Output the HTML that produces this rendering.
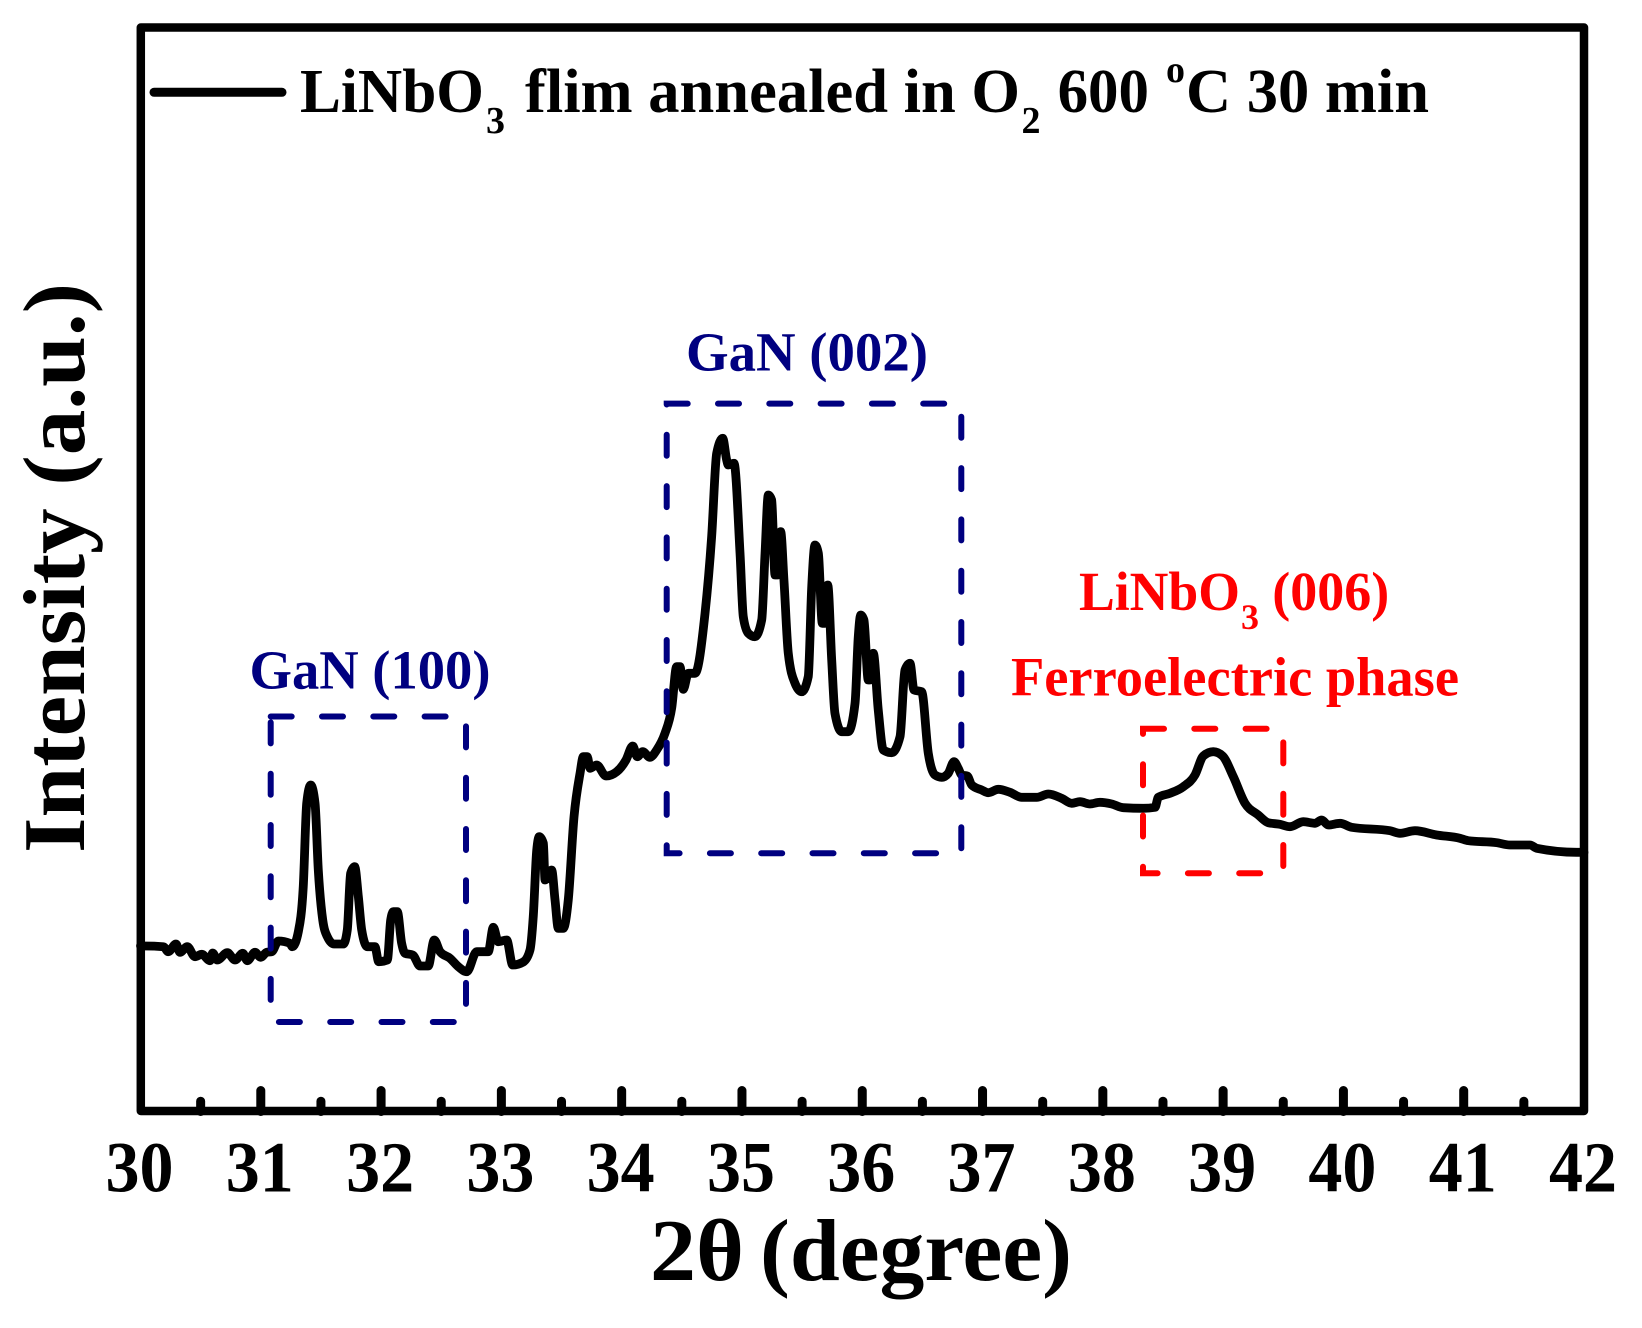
<!DOCTYPE html>
<html lang="en">
<head>
<meta charset="utf-8">
<title>XRD pattern of LiNbO3 film</title>
<style>
html,body{margin:0;padding:0;background:#fff;}
svg{display:block;}
text{font-family:"Liberation Serif","Times New Roman",serif;font-weight:bold;}
</style>
</head>
<body>
<svg id="chart" xmlns="http://www.w3.org/2000/svg" width="1642" height="1328" viewBox="0 0 1642 1328">
  <rect x="0" y="0" width="1642" height="1328" fill="#ffffff"/>
  <g id="ticks"></g>
  <g id="series"></g>
  <rect x="140.8" y="27.5" width="1443.2" height="1083.5" fill="none" stroke="#000" stroke-width="8.5" stroke-linejoin="round"/>
  <rect x="270.7" y="716.5" width="195.3" height="305.5" fill="none" stroke="#000080" stroke-width="6" stroke-linecap="round" stroke-dasharray="21 30.3"/>
  <rect x="666.7" y="403.6" width="294.6" height="449.7" fill="none" stroke="#000080" stroke-width="6" stroke-linecap="round" stroke-dasharray="21 30.3"/>
  <rect x="1143" y="728.8" width="140.3" height="144.4" fill="none" stroke="#ff0000" stroke-width="6" stroke-linecap="round" stroke-dasharray="21 30.3"/>

  <g>
    <line x1="154" y1="92.3" x2="282" y2="92.3" stroke="#000" stroke-width="9" stroke-linecap="round"/>
    <text x="300" y="112" font-size="62" textLength="184" lengthAdjust="spacingAndGlyphs">LiNbO</text>
    <text x="486" y="133" font-size="38">3</text>
    <text x="525" y="112" font-size="62" textLength="495" lengthAdjust="spacingAndGlyphs">flim annealed in O</text>
    <text x="1021.5" y="133" font-size="38">2</text>
    <text x="1057.6" y="112" font-size="62" textLength="91.4" lengthAdjust="spacingAndGlyphs">600</text>
    <text x="1166" y="82" font-size="38">o</text>
    <text x="1186" y="112" font-size="62" textLength="243" lengthAdjust="spacingAndGlyphs">C 30 min</text>
  </g>

  <text x="686" y="370.6" font-size="55" fill="#000080" textLength="242" lengthAdjust="spacingAndGlyphs">GaN (002)</text>
  <text x="249.5" y="688.6" font-size="55" fill="#000080" textLength="241" lengthAdjust="spacingAndGlyphs">GaN (100)</text>
  <text x="1079" y="610" font-size="55" fill="#ff0000" textLength="161" lengthAdjust="spacingAndGlyphs">LiNbO</text>
  <text x="1241" y="629" font-size="36" fill="#ff0000">3</text>
  <text x="1272.3" y="610" font-size="55" fill="#ff0000" textLength="117" lengthAdjust="spacingAndGlyphs">(006)</text>
  <text x="1011" y="695.5" font-size="55" fill="#ff0000" textLength="448" lengthAdjust="spacingAndGlyphs">Ferroelectric phase</text>

  <text x="650" y="1280" font-size="88" textLength="94" lengthAdjust="spacingAndGlyphs">2θ</text>
  <text x="760" y="1280" font-size="88" textLength="312" lengthAdjust="spacingAndGlyphs">(degree)</text>
  <text transform="translate(83.8 853) rotate(-90)" x="0" y="0" font-size="88" textLength="570" lengthAdjust="spacingAndGlyphs">Intensity (a.u.)</text>
</svg>
<script>
const majorTickLabels = [30,31,32,33,34,35,36,37,38,39,40,41,42];
const minorTickValues = [30.5,31.5,32.5,33.5,34.5,35.5,36.5,37.5,38.5,39.5,40.5,41.5];
const twoTheta = [30.037,30.19,30.231,30.295,30.328,30.389,30.453,30.509,30.578,30.6,30.638,30.722,30.786,30.85,30.888,30.952,30.999,31.049,31.091,31.146,31.243,31.262,31.312,31.353,31.382,31.415,31.451,31.478,31.515,31.553,31.609,31.686,31.719,31.747,31.781,31.811,31.839,31.885,31.949,31.98,32.052,32.08,32.102,32.135,32.171,32.199,32.263,32.324,32.392,32.442,32.49,32.573,32.642,32.712,32.795,32.891,32.933,32.974,33.044,33.094,33.182,33.238,33.265,33.294,33.315,33.349,33.363,33.418,33.446,33.473,33.515,33.556,33.604,33.654,33.681,33.714,33.737,33.792,33.87,33.959,34.036,34.092,34.13,34.175,34.235,34.291,34.36,34.416,34.457,34.485,34.512,34.554,34.61,34.693,34.748,34.79,34.84,34.873,34.886,34.934,34.984,35.011,35.053,35.108,35.164,35.192,35.219,35.247,35.275,35.294,35.322,35.349,35.385,35.441,35.497,35.551,35.58,35.607,35.635,35.668,35.69,35.713,35.746,35.773,35.829,35.884,35.94,35.967,35.987,36.014,36.05,36.064,36.092,36.133,36.175,36.245,36.314,36.355,36.397,36.43,36.494,36.549,36.605,36.661,36.715,36.763,36.798,36.827,36.873,36.91,36.993,37.048,37.131,37.228,37.325,37.45,37.547,37.658,37.741,37.81,37.893,37.976,38.074,38.17,38.336,38.434,38.461,38.558,38.669,38.766,38.835,38.918,38.996,39.085,39.182,39.292,39.375,39.473,39.556,39.666,39.764,39.819,39.874,39.972,40.069,40.387,40.47,40.595,40.775,40.969,41.038,41.274,41.385,41.551,41.607,41.939];
const intensity = [165.5,164.8,159.8,167.5,159.2,164.8,154.8,157.2,150.8,158.5,151.5,158.8,151.5,158.2,150.8,159.2,154.2,159.2,159.8,170.5,168.2,164.8,179.8,224.8,308.5,326.5,308.2,241.5,191.5,174.8,167.5,167.5,181.5,238.2,244.8,214.8,181.5,164.8,164.8,149.8,151.5,191.5,199.8,199.8,168.2,158.2,156.5,145.5,145.5,171.5,159.8,153.2,144.8,139.8,159.8,159.8,184.2,169.8,171.5,146.5,149.5,161.5,194.8,261.5,274.8,268.2,231.5,241.5,211.5,183.2,183.2,211.5,294.8,338.2,354.8,354.8,343.2,346.5,335.5,339.8,351.5,365.5,354.8,359.8,354.2,361.5,378.2,403.5,444.8,444.8,422.2,438.2,438.2,498.2,574.8,658.2,673.2,651.5,646.5,648.2,558.2,494.8,478.2,474.8,491.5,558.2,616.5,611.5,536.5,536.5,579.8,531.5,458.2,428.2,419.8,434.8,524.8,566.5,558.2,488.2,488.2,526.5,451.5,398.2,379.8,379.8,408.2,474.8,496.5,491.5,431.5,431.5,458.2,401.5,361.5,358.8,374.8,441.5,448.2,421.5,419.8,358.2,336.5,334.2,338.2,349.8,343.2,336.5,335.5,326.5,321.5,318.8,322.2,319.2,314.2,314.2,317.5,313.2,308.2,309.8,307.5,309.2,307.5,303.8,303.2,304.2,314.2,318.2,324.8,336.5,355.5,359.8,355.5,334.8,308.2,296.5,288.8,287.2,284.8,289.8,288.2,291.5,286.5,288.2,284.2,280.8,278.2,280.8,276.5,273.2,270.8,268.8,266.5,266.5,263.2,259.2];

const SVG_NS = 'http://www.w3.org/2000/svg';
const plot = {left: 140.5, right: 1584, top: 27.5, bottom: 1111.5};
const xDomain = [30, 42];
const yDomain = [0, 1084];

function xScale(v) {
  return plot.left + (v - xDomain[0]) / (xDomain[1] - xDomain[0]) * (plot.right - plot.left);
}
function yScale(v) {
  return plot.bottom - (v - yDomain[0]) / (yDomain[1] - yDomain[0]) * (plot.bottom - plot.top);
}

function monotonePath(xs, ys) {
  const n = xs.length;
  const h = [];
  const s = [];
  for (let i = 0; i < n - 1; i++) {
    h.push(xs[i + 1] - xs[i]);
    s.push((ys[i + 1] - ys[i]) / h[i]);
  }
  const m = new Array(n).fill(0);
  m[0] = s[0];
  m[n - 1] = s[n - 2];
  for (let i = 1; i < n - 1; i++) {
    if (s[i - 1] * s[i] > 0) {
      const p = (s[i - 1] * h[i] + s[i] * h[i - 1]) / (h[i] + h[i - 1]);
      m[i] = Math.sign(s[i]) * Math.min(Math.abs(s[i - 1]), Math.abs(s[i]), Math.abs(p) / 2) * 2;
    }
  }
  let d = 'M' + xs[0].toFixed(2) + ',' + ys[0].toFixed(2);
  for (let i = 0; i < n - 1; i++) {
    const c1x = xs[i] + h[i] / 3;
    const c1y = ys[i] + m[i] * h[i] / 3;
    const c2x = xs[i + 1] - h[i] / 3;
    const c2y = ys[i + 1] - m[i + 1] * h[i] / 3;
    d += 'C' + c1x.toFixed(2) + ',' + c1y.toFixed(2) + ' ' + c2x.toFixed(2) + ',' + c2y.toFixed(2) + ' ' + xs[i + 1].toFixed(2) + ',' + ys[i + 1].toFixed(2);
  }
  return d;
}

const ticksLayer = document.getElementById('ticks');
majorTickLabels.forEach(function (label) {
  const x = xScale(label);
  if (label !== xDomain[0] && label !== xDomain[1]) {
    const tick = document.createElementNS(SVG_NS, 'line');
    
    
    tick.setAttribute('x1', x);
    tick.setAttribute('x2', x);
    tick.setAttribute('y1', plot.bottom);
    tick.setAttribute('y2', 1090.5);
    tick.setAttribute('stroke', '#000');
    tick.setAttribute('stroke-width', '9');
    tick.setAttribute('stroke-linecap', 'round');
    ticksLayer.appendChild(tick);
  }
  const text = document.createElementNS(SVG_NS, 'text');
  
  
  text.setAttribute('x', x - 1);
  text.setAttribute('y', 1191.5);
  text.setAttribute('font-size', '72');
  text.setAttribute('text-anchor', 'middle');
  text.setAttribute('textLength', '68');
  text.setAttribute('lengthAdjust', 'spacingAndGlyphs');
  text.textContent = label;
  ticksLayer.appendChild(text);
});
minorTickValues.forEach(function (value) {
  const x = xScale(value);
  const tick = document.createElementNS(SVG_NS, 'line');
  
  
  tick.setAttribute('x1', x);
  tick.setAttribute('x2', x);
  tick.setAttribute('y1', plot.bottom);
  tick.setAttribute('y2', 1101.2);
  tick.setAttribute('stroke', '#000');
  tick.setAttribute('stroke-width', '9');
  tick.setAttribute('stroke-linecap', 'round');
  ticksLayer.appendChild(tick);
});

const lineXs = [xDomain[0]].concat(twoTheta, [xDomain[1]]).map(xScale);
const lineYs = [intensity[0]].concat(intensity, [intensity[intensity.length - 1]]).map(yScale);
const seriesLine = document.createElementNS(SVG_NS, 'path');


seriesLine.setAttribute('d', monotonePath(lineXs, lineYs));
seriesLine.setAttribute('fill', 'none');
seriesLine.setAttribute('stroke', '#000');
seriesLine.setAttribute('stroke-width', '8.8');
seriesLine.setAttribute('stroke-linejoin', 'round');
seriesLine.setAttribute('stroke-linecap', 'round');
document.getElementById('series').appendChild(seriesLine);
</script>
</body>
</html>
